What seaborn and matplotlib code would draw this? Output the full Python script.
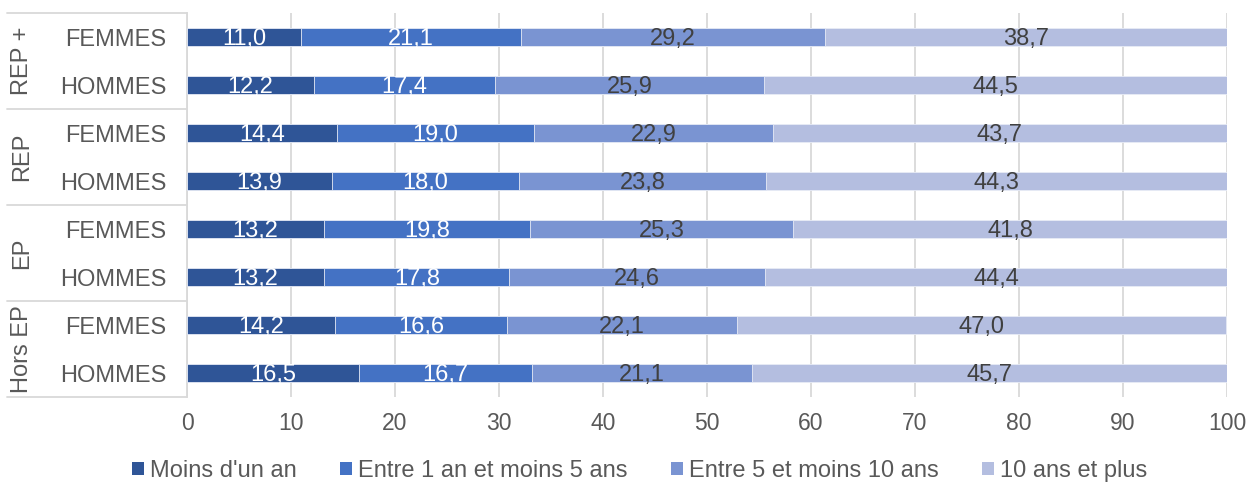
import numpy as np
import pandas as pd
import matplotlib
matplotlib.use("Agg")
import matplotlib.pyplot as plt
import matplotlib.transforms as mtransforms
from matplotlib.patches import Patch
import seaborn as sns

groups = ["REP +", "REP", "EP", "Hors EP"]
sexes = ["FEMMES", "HOMMES"]
series = ["Moins d'un an", "Entre 1 an et moins 5 ans", "Entre 5 et moins 10 ans", "10 ans et plus"]
moins_un_an = [11.0, 12.2, 14.4, 13.9, 13.2, 13.2, 14.2, 16.5]
un_a_cinq = [21.1, 17.4, 19.0, 18.0, 19.8, 17.8, 16.6, 16.7]
cinq_a_dix = [29.2, 25.9, 22.9, 23.8, 25.3, 24.6, 22.1, 21.1]
dix_et_plus = [38.7, 44.5, 43.7, 44.3, 41.8, 44.4, 47.0, 45.7]
xticks = [0, 10, 20, 30, 40, 50, 60, 70, 80, 90, 100]

colors = ["#2F5597", "#4472C4", "#7A94D2", "#B4BEE0"]
label_colors = ["white", "white", "#404040", "#404040"]

rows = [f"{g} {s}" for g in groups for s in sexes]
vals = np.array([moins_un_an, un_a_cinq, cinq_a_dix, dix_et_plus])
cum = np.cumsum(vals, axis=0)

sns.set_style("white")
plt.rcParams["font.family"] = ["Liberation Sans", "DejaVu Sans"]

fig = plt.figure(figsize=(12.5, 4.82), dpi=100)
ax = fig.add_axes([187/1250, 1 - 397/482, 1040/1250, 384/482])

for i in range(3, -1, -1):
    df = pd.DataFrame({"row": rows, "val": cum[i]})
    sns.barplot(data=df, x="val", y="row", order=rows, orient="h", color=colors[i],
                width=0.39, ax=ax, edgecolor="#E8ECF6", linewidth=0.6, saturation=1, zorder=3)

for i in range(4):
    for r in range(len(rows)):
        start = cum[i][r] - vals[i][r]
        ax.text(start + vals[i][r] / 2, r + 0.05, f"{vals[i][r]:.1f}".replace(".", ","),
                ha="center", va="center", fontsize=17, color=label_colors[i], zorder=5)

ax.set_xlim(0, 100)
ax.set_ylim(len(rows) - 0.5, -0.5)
ax.set_xticks(xticks)
ax.set_xticklabels([str(t) for t in xticks], fontsize=16.5, color="#595959")
ax.set_yticks(range(len(rows)))
ax.set_yticklabels([s for g in groups for s in sexes], fontsize=17, color="#595959")
ax.tick_params(axis="y", length=0, pad=15)
ax.tick_params(axis="x", length=0, pad=11)
ax.set_xlabel("")
ax.set_ylabel("")
ax.grid(axis="x", color="#D9D9D9", linewidth=1.3, zorder=0)
ax.set_axisbelow(True)
for s in ["top", "right", "bottom"]:
    ax.spines[s].set_visible(False)
ax.spines["left"].set_color("#D9D9D9")
ax.spines["left"].set_linewidth(1.3)

trans = mtransforms.blended_transform_factory(ax.transAxes, ax.transData)
x0 = (7 - 187) / 1040
for b in [-0.5, 1.5, 3.5, 5.5, 7.5]:
    ax.plot([x0, 0], [b, b], transform=trans, color="#D9D9D9", linewidth=1.3, clip_on=False)
for gi, g in enumerate(groups):
    ax.text((22 - 187) / 1040, gi * 2 + 0.5, g, transform=trans, rotation=90,
            ha="center", va="center", fontsize=17, color="#595959")

handles = [Patch(facecolor=c, edgecolor="none") for c in colors]
fig.legend(handles, series, loc="center", bbox_to_anchor=(0.5116, 1 - 471/482), ncol=4,
           frameon=False, fontsize=17, labelcolor="#595959", handlelength=0.5,
           handleheight=0.5, handletextpad=0.25, columnspacing=1.85, borderpad=0.1)

fig.savefig("out.png", dpi=100)
